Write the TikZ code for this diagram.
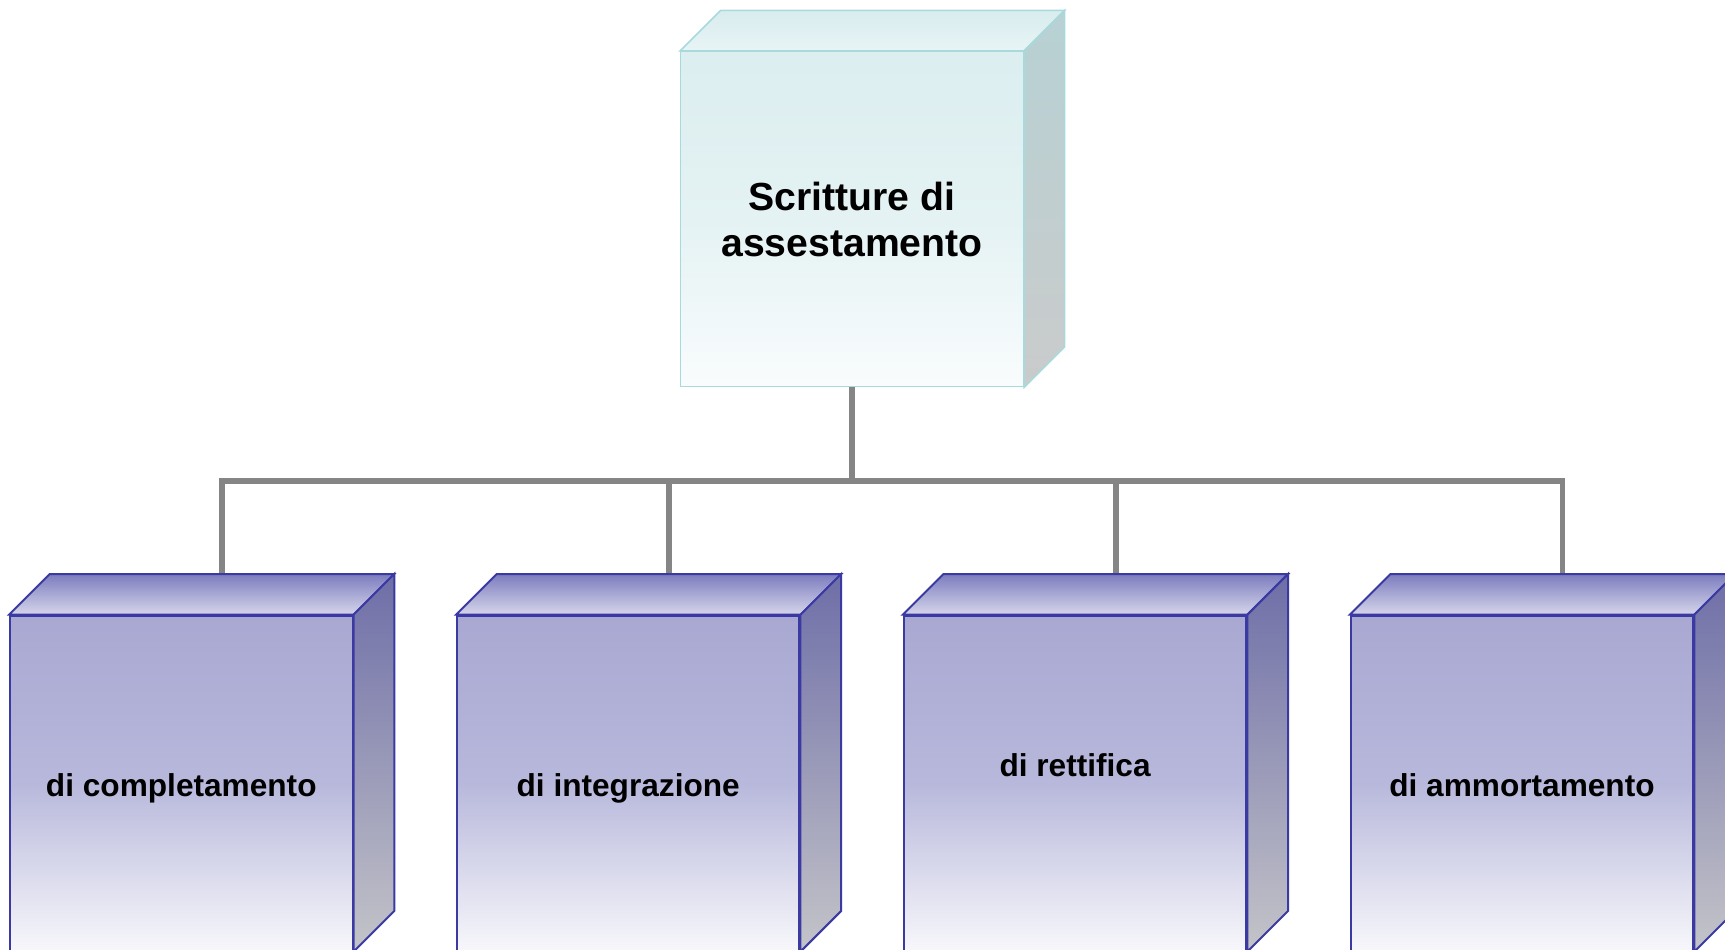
\documentclass[tikz,border=0pt]{standalone}
\usepackage{fontspec}
\setmainfont{Liberation Sans}
\usetikzlibrary{calc}
\definecolor{tfTop}{HTML}{DCEEF0}
\definecolor{tfMid}{HTML}{E4F2F3}
\definecolor{tfBot}{HTML}{F9FCFD}
\definecolor{ttBack}{HTML}{D8ECEE}
\definecolor{ttFront}{HTML}{E8F4F5}
\definecolor{trTop}{HTML}{B7D1D4}
\definecolor{trBot}{HTML}{CACBCB}
\definecolor{tBorder}{HTML}{A8D9DD}
\definecolor{bfTop}{HTML}{A8A8D2}
\definecolor{bfMid}{HTML}{B8B8DC}
\definecolor{bfBot}{HTML}{F7F7FB}
\definecolor{btBack}{HTML}{7C7CBF}
\definecolor{btFront}{HTML}{D6D6EB}
\definecolor{brTop}{HTML}{6E6EA8}
\definecolor{brBot}{HTML}{C4C4C9}
\definecolor{bBorder}{HTML}{3A3AA2}
\definecolor{connGray}{HTML}{858585}
\tikzset{
  facebox/.style={rectangle, inner sep=0pt, minimum width=6.852cm, minimum height=6.70cm},
  topfront/.style={facebox, draw=tBorder, line width=0.03cm, top color=tfTop, bottom color=tfBot, middle color=tfMid,
     align=center, font=\bfseries\fontsize{22.3}{26.2}\selectfont},
  topupper/.style={draw=tBorder, line width=0.03cm, top color=ttBack, bottom color=ttFront},
  topside/.style={draw=tBorder, line width=0.03cm, top color=trTop, bottom color=trBot},
  botfront/.style={facebox, draw=bBorder, line width=0.04cm, top color=bfTop, bottom color=bfBot, middle color=bfMid},
  botupper/.style={draw=bBorder, line width=0.04cm, top color=btBack, bottom color=btFront},
  botside/.style={draw=bBorder, line width=0.04cm, top color=brTop, bottom color=brBot},
  botlabel/.style={anchor=base, inner sep=0pt, font=\bfseries\fontsize{18}{21}\selectfont},
  conn/.style={draw=connGray, line width=0.11cm, line join=miter}
}
\newcommand{\cubesides}[2]{%
  \path[#2upper] (#1.north west) -- ($(#1.north west)+(40.7,-40.7)$) -- ($(#1.north east)+(40.7,-40.7)$) -- (#1.north east) -- cycle;
  \path[#2side] (#1.north east) -- ($(#1.north east)+(40.7,-40.7)$) -- ($(#1.south east)+(40.7,-40.7)$) -- (#1.south east) -- cycle;
}
\begin{document}
\begin{tikzpicture}[x=0.02cm, y=-0.02cm]
\useasboundingbox (0,0) rectangle (1725,950);
\clip (0,0) rectangle (1725,950);
% faces
\node[topfront] (top) at (852,219.2) {Scritture di\\assestamento};
\node[botfront] (b1) at (181.3,783.2) {};
\node[botfront] (b2) at (628.2,783.2) {};
\node[botfront] (b3) at (1075.1,783.2) {};
\node[botfront] (b4) at (1522.0,783.2) {};
% connector end points
\coordinate (bar) at (852,481);
\coordinate (t1) at ($(b1.north)+(40.7,-40.7)$);
\coordinate (t2) at ($(b2.north)+(40.7,-40.7)$);
\coordinate (t3) at ($(b3.north)+(40.7,-40.7)$);
\coordinate (t4) at ($(b4.north)+(40.7,-40.7)$);
\draw[conn] (top.south) -- (bar);
\draw[conn] (t1) |- (bar) -| (t4);
\draw[conn] (bar) -| (t2);
\draw[conn] (bar) -| (t3);
% cube sides
\cubesides{top}{top}
\cubesides{b1}{bot}
\cubesides{b2}{bot}
\cubesides{b3}{bot}
\cubesides{b4}{bot}
% labels
\node[botlabel] (l1) at (181.3,796) {di completamento};
\node[botlabel] (l2) at (628.2,796) {di integrazione};
\node[botlabel] (l3) at (1075.1,776) {di rettifica};
\node[botlabel] (l4) at (1522.0,796) {di ammortamento};
\end{tikzpicture}
\end{document}
